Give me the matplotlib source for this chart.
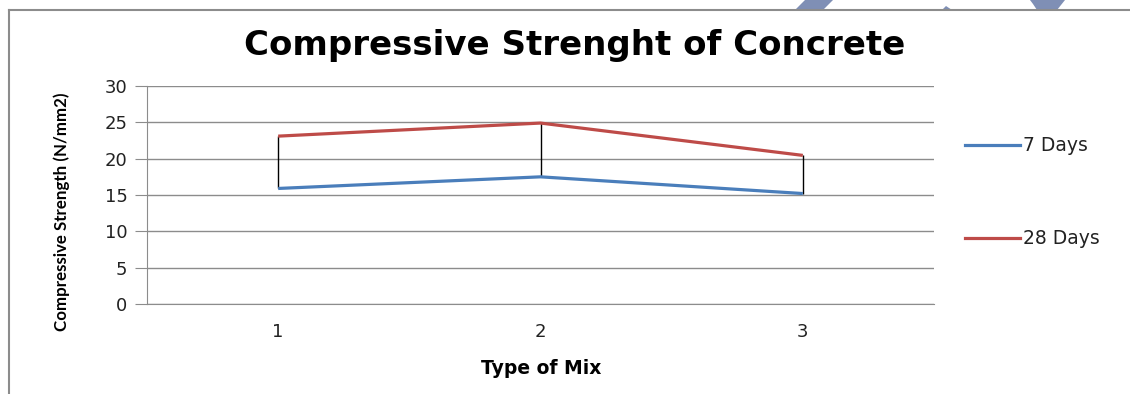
import matplotlib
matplotlib.use('Agg')
import matplotlib.pyplot as plt
from matplotlib.patches import Polygon
from matplotlib.lines import Line2D

mixes = [1, 2, 3]
days7 = [15.9, 17.5, 15.2]
days28 = [23.1, 24.9, 20.45]
series_names = ['7 Days', '28 Days']
y_ticks = [0, 5, 10, 15, 20, 25, 30]

fig = plt.figure(figsize=(11.3, 3.94), dpi=100)
W, H = 1130, 394
ax = fig.add_axes([147 / W, 1 - 304 / H, (934 - 147) / W, (304 - 86) / H])

ax.plot(mixes, days7, color='#4a7ebb', lw=2.3, solid_capstyle='butt', zorder=3)
ax.plot(mixes, days28, color='#be4b48', lw=2.3, solid_capstyle='butt', zorder=3)
ax.vlines(mixes, [min(a, b) for a, b in zip(days7, days28)],
          [max(a, b) for a, b in zip(days7, days28)], color='black', lw=1, zorder=2)

ax.set_xlim(0.5, 3.5)
ax.set_ylim(0, 30)
ax.set_yticks(y_ticks)
ax.set_xticks(mixes)
ax.grid(axis='y', color='#8c8c8c', lw=1)
ax.set_axisbelow(True)
for s in ['top', 'right']:
    ax.spines[s].set_visible(False)
ax.spines['left'].set_color('#8c8c8c')
ax.spines['bottom'].set_color('#8c8c8c')
ax.tick_params(axis='y', length=9, color='#8c8c8c', labelsize=13, pad=5)
ax.tick_params(axis='x', length=0, labelsize=13, pad=14)
for lab in ax.get_yticklabels() + ax.get_xticklabels():
    lab.set_family('DejaVu Sans')
    lab.set_color('#222222')

fig.text(575 / W, 1 - 46 / H, 'Compressive Strenght of Concrete', ha='center', va='center',
         fontsize=24.5, fontweight='bold', family='DejaVu Sans')
fig.text(541 / W, 1 - 368 / H, 'Type of Mix', ha='center', va='center',
         fontsize=13.5, fontweight='bold', family='DejaVu Sans')
fig.text(62 / W, 1 - 212 / H, 'Compressive Strength (N/mm2)', ha='center', va='center',
         rotation=90, fontsize=12.2, family='Lato', fontweight='bold')

# legend
for name, col, yy in [(series_names[0], '#4a7ebb', 145), (series_names[1], '#be4b48', 238)]:
    fig.add_artist(Line2D([965 / W, 1020 / W], [1 - yy / H, 1 - yy / H], color=col, lw=2.3))
    fig.text(1023 / W, 1 - yy / H, name, ha='left', va='center', fontsize=13.5,
             family='DejaVu Sans', color='#222222')

# outer frame
fig.add_artist(Line2D([9 / W, 1], [1 - 10 / H, 1 - 10 / H], color='#8c8c8c', lw=1.5))
fig.add_artist(Line2D([9 / W, 9 / W], [0, 1 - 10 / H], color='#8c8c8c', lw=1.5))

# decoration shapes at top
shapes = [
    [(795, 10), (805, 0), (833, 0), (823, 10)],
    [(942, 10), (946, 6), (952, 10)],
    [(1030, 0), (1065, 0), (1057, 10), (1037, 10), (1033, 4)],
]
for sh in shapes:
    fig.add_artist(Polygon([(x / W, 1 - y / H) for x, y in sh], closed=True,
                           facecolor='#7f8fb5', edgecolor='none', transform=fig.transFigure))

fig.savefig('out.png', dpi=100)
